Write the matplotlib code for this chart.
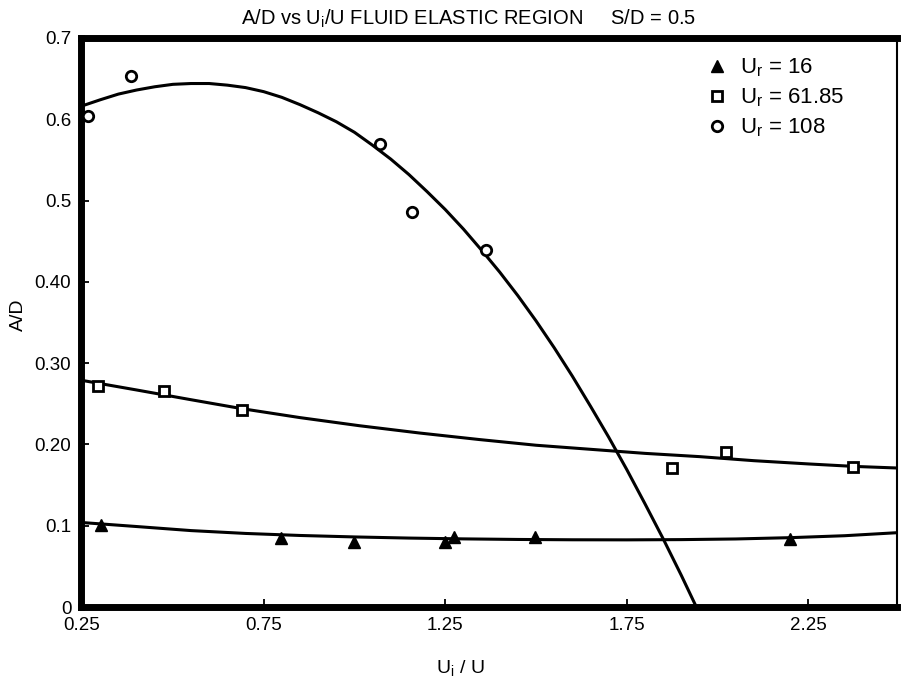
import matplotlib
matplotlib.use("Agg")
import matplotlib.pyplot as plt

plt.rcParams['font.family'] = ['Liberation Sans', 'DejaVu Sans']
plt.rcParams['mathtext.fontset'] = 'custom'
plt.rcParams['mathtext.rm'] = 'Liberation Sans'
plt.rcParams['mathtext.it'] = 'Liberation Sans'

# ---- measured points ----
tri_x = [0.302, 0.798, 0.999, 1.250, 1.275, 1.496, 2.198]
tri_y = [0.101, 0.0845, 0.0796, 0.0796, 0.0857, 0.0857, 0.0833]

sq_x = [0.295, 0.476, 0.690, 1.875, 2.024, 2.374]
sq_y = [0.272, 0.266, 0.242, 0.171, 0.191, 0.1726]

circ_x = [0.267, 0.385, 1.069, 1.159, 1.363]
circ_y = [0.604, 0.653, 0.570, 0.486, 0.439]

# ---- fitted curves ----
tri_fit_x = [0.247, 0.40, 0.55, 0.70, 0.85, 1.0, 1.15, 1.30, 1.45, 1.60, 1.75,
             1.90, 2.05, 2.20, 2.35, 2.494]
tri_fit_y = [0.104, 0.099, 0.094, 0.0905, 0.0880, 0.0862, 0.0848, 0.0838, 0.0831,
             0.0827, 0.0826, 0.0829, 0.0837, 0.0853, 0.0877, 0.0914]

sq_fit_x = [0.247, 0.40, 0.55, 0.69, 0.85, 1.014, 1.18, 1.344, 1.50, 1.65, 1.80,
            1.95, 2.10, 2.25, 2.374, 2.494]
sq_fit_y = [0.279, 0.267, 0.255, 0.244, 0.233, 0.223, 0.214, 0.206, 0.199, 0.194,
            0.189, 0.185, 0.180, 0.176, 0.173, 0.171]

circ_fit_x = [0.247, 0.30, 0.35, 0.40, 0.45, 0.50, 0.55, 0.60, 0.65, 0.70, 0.75,
              0.80, 0.85, 0.90, 0.95, 1.00, 1.05, 1.10, 1.15, 1.20, 1.25, 1.30,
              1.35, 1.40, 1.45, 1.50, 1.55, 1.60, 1.65, 1.70, 1.75, 1.80, 1.85,
              1.90, 1.95, 2.00]
circ_fit_y = [0.616, 0.624, 0.631, 0.636, 0.640, 0.643, 0.644, 0.644, 0.642, 0.639,
              0.634, 0.627, 0.618, 0.608, 0.597, 0.584, 0.568, 0.551, 0.532, 0.511,
              0.489, 0.465, 0.439, 0.412, 0.383, 0.352, 0.319, 0.284, 0.247, 0.209,
              0.169, 0.127, 0.084, 0.039, -0.008, -0.055]

labels = ['U$_\\mathregular{r}$ = 16', 'U$_\\mathregular{r}$ = 61.85', 'U$_\\mathregular{r}$ = 108']
x_ticks = [0.25, 0.75, 1.25, 1.75, 2.25]
x_tick_labels = ['0.25', '0.75', '1.25', '1.75', '2.25']
y_ticks = [0, 0.1, 0.2, 0.3, 0.4, 0.5, 0.6, 0.7]
y_tick_labels = ['0', '0.1', '0.20', '0.30', '0.40', '0.5', '0.6', '0.7']

fig = plt.figure(figsize=(9.01, 6.8), dpi=100)
W, H = 901, 680
L, R, T, B = 81, 897, 38, 607
ax = fig.add_axes([L / W, (H - B) / H, (R - L) / W, (B - T) / H])

line_kw = dict(color='black', lw=2.2, solid_capstyle='butt', solid_joinstyle='round')
ax.plot(tri_fit_x, tri_fit_y, **line_kw)
ax.plot(sq_fit_x, sq_fit_y, **line_kw)
ax.plot(circ_fit_x, circ_fit_y, **line_kw)

h1, = ax.plot(tri_x, tri_y, ls='none', marker='^', ms=9, color='black', zorder=5)
h2, = ax.plot(sq_x, sq_y, ls='none', marker='s', ms=7.3, mfc='white', mec='black',
              mew=2.0, zorder=5)
h3, = ax.plot(circ_x, circ_y, ls='none', marker='o', ms=7.5, mfc='white', mec='black',
              mew=2.0, zorder=5)

ax.set_xlim(0.247, 2.494)
ax.set_ylim(0, 0.7)
ax.set_xticks(x_ticks)
ax.set_xticklabels(x_tick_labels)
ax.set_yticks(y_ticks)
ax.set_yticklabels(y_tick_labels)
ax.tick_params(direction='in', length=6, width=1.3, labelsize=13.5)
ax.tick_params(axis='x', pad=7)
ax.tick_params(axis='y', pad=7)

for s in ['left', 'top', 'bottom']:
    ax.spines[s].set_linewidth(5)
ax.spines['right'].set_linewidth(1.5)

fig.text(469 / W, 1 - 19 / H,
         'A/D vs U$_\\mathregular{i}$/U FLUID ELASTIC REGION     S/D = 0.5',
         fontsize=14.5, ha='center', va='center')
ax.set_ylabel('A/D', fontsize=14)
ax.yaxis.set_label_coords((27 - L) / (R - L), 0.513)
ax.set_xlabel('U$_\\mathregular{i}$ / U', fontsize=14, va='center')
ax.xaxis.set_label_coords((460 - L) / (R - L), -(668 - B) / (B - T))

ax.legend([h1, h2, h3], labels, loc='upper left',
          bbox_to_anchor=(706 / W, 1 - 56.5 / H), bbox_transform=fig.transFigure,
          frameon=False, fontsize=16, handletextpad=0.53, labelspacing=0.33,
          handlelength=1.0, borderpad=0, borderaxespad=0)

fig.savefig('out.png', dpi=100)
